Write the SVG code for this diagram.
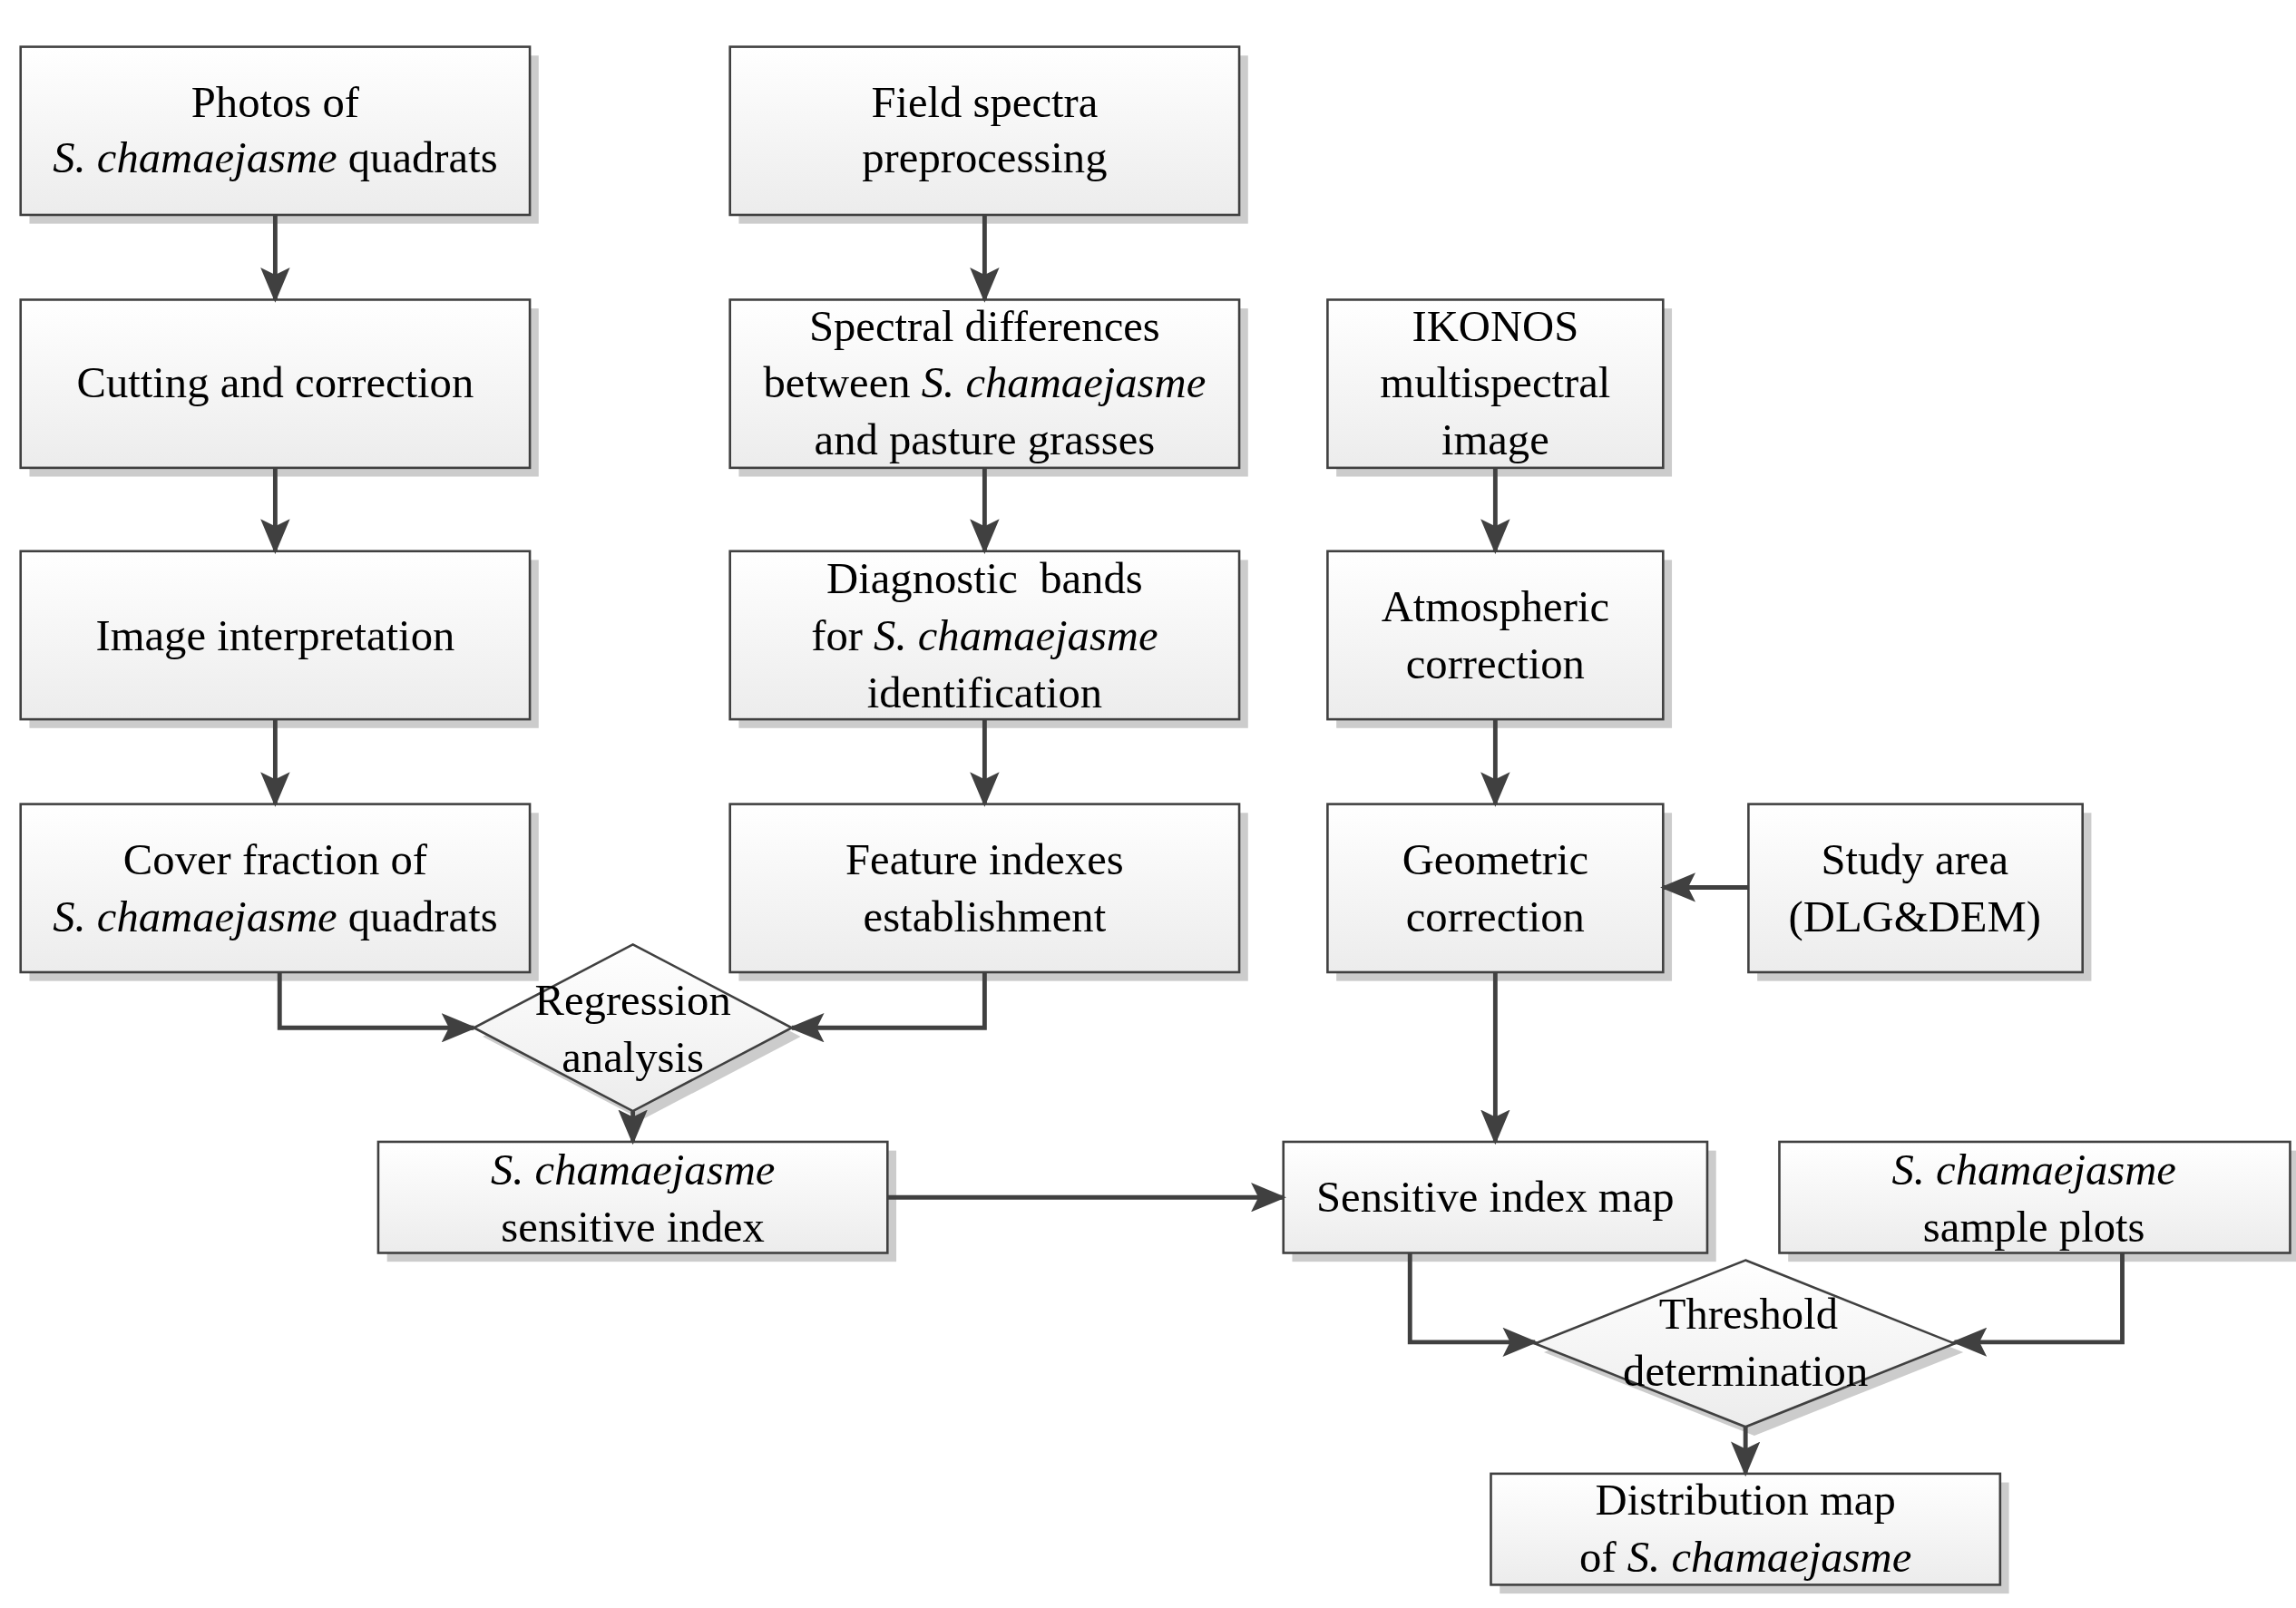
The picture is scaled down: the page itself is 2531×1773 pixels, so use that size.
<svg xmlns="http://www.w3.org/2000/svg" width="2531" height="1773" viewBox="0 0 2531 1773">
<defs>
<linearGradient id="g" x1="0" y1="0" x2="0" y2="1"><stop offset="0" stop-color="#ffffff"/><stop offset="1" stop-color="#ececec"/></linearGradient>
<marker id="a" markerUnits="userSpaceOnUse" viewBox="0 0 24 20" refX="22" refY="10" markerWidth="24" markerHeight="20" orient="auto"><path d="M0,0 L24,10 L0,20 L5,10 Z" fill="#404040"/></marker>
<style>
.b{fill:url(#g);stroke:#404040;stroke-width:1.6}
.s{fill:#cccccc}
.t{font-family:"Liberation Serif","Times New Roman",serif;font-size:30px;text-anchor:middle;fill:#000}
.c{fill:none;stroke:#404040;stroke-width:3;marker-end:url(#a)}
</style>
</defs>
<rect width="2531" height="1773" fill="#fff"/>
<g transform="scale(1.6224,1.612)">
<g id="n1"><rect class="s" x="20" y="38" width="346" height="115"/><rect class="b" x="14" y="32" width="346" height="115"/><text class="t" x="187" y="80">Photos of</text><text class="t" x="187" y="118"><tspan font-style="italic">S. chamaejasme</tspan> quadrats</text></g>
<g id="n2"><rect class="s" x="20" y="211" width="346" height="115"/><rect class="b" x="14" y="205" width="346" height="115"/><text class="t" x="187" y="272">Cutting and correction</text></g>
<g id="n3"><rect class="s" x="20" y="383" width="346" height="115"/><rect class="b" x="14" y="377" width="346" height="115"/><text class="t" x="187" y="445">Image interpretation</text></g>
<g id="n4"><rect class="s" x="20" y="556" width="346" height="115"/><rect class="b" x="14" y="550" width="346" height="115"/><text class="t" x="187" y="598">Cover fraction of</text><text class="t" x="187" y="637"><tspan font-style="italic">S. chamaejasme</tspan> quadrats</text></g>
<g id="n5"><rect class="s" x="502" y="38" width="346" height="115"/><rect class="b" x="496" y="32" width="346" height="115"/><text class="t" x="669" y="80">Field spectra</text><text class="t" x="669" y="118">preprocessing</text></g>
<g id="n6"><rect class="s" x="502" y="211" width="346" height="115"/><rect class="b" x="496" y="205" width="346" height="115"/><text class="t" x="669" y="233">Spectral differences</text><text class="t" x="669" y="272">between <tspan font-style="italic">S. chamaejasme</tspan></text><text class="t" x="669" y="311">and pasture grasses</text></g>
<g id="n7"><rect class="s" x="502" y="383" width="346" height="115"/><rect class="b" x="496" y="377" width="346" height="115"/><text class="t" x="669" y="406" xml:space="preserve">Diagnostic  bands</text><text class="t" x="669" y="445">for <tspan font-style="italic">S. chamaejasme</tspan></text><text class="t" x="669" y="484">identification</text></g>
<g id="n8"><rect class="s" x="502" y="556" width="346" height="115"/><rect class="b" x="496" y="550" width="346" height="115"/><text class="t" x="669" y="598">Feature indexes</text><text class="t" x="669" y="637">establishment</text></g>
<g id="n9"><rect class="s" x="908" y="211" width="228" height="115"/><rect class="b" x="902" y="205" width="228" height="115"/><text class="t" x="1016" y="233">IKONOS</text><text class="t" x="1016" y="272">multispectral</text><text class="t" x="1016" y="311">image</text></g>
<g id="n10"><rect class="s" x="908" y="383" width="228" height="115"/><rect class="b" x="902" y="377" width="228" height="115"/><text class="t" x="1016" y="425">Atmospheric</text><text class="t" x="1016" y="464">correction</text></g>
<g id="n11"><rect class="s" x="908" y="556" width="228" height="115"/><rect class="b" x="902" y="550" width="228" height="115"/><text class="t" x="1016" y="598">Geometric</text><text class="t" x="1016" y="637">correction</text></g>
<g id="n12"><rect class="s" x="1194" y="556" width="227" height="115"/><rect class="b" x="1188" y="550" width="227" height="115"/><text class="t" x="1301" y="598">Study area</text><text class="t" x="1301" y="637">(DLG&amp;DEM)</text></g>
<g id="n13"><path class="s" d="M436,652 L544,709 L436,766 L328,709 Z"/><path class="b" d="M430,646 L538,703 L430,760 L322,703 Z"/><text class="t" x="430" y="694">Regression</text><text class="t" x="430" y="733">analysis</text></g>
<g id="n14"><rect class="s" x="263" y="787" width="346" height="76"/><rect class="b" x="257" y="781" width="346" height="76"/><text class="t" x="430" y="810" font-style="italic">S. chamaejasme</text><text class="t" x="430" y="849">sensitive index</text></g>
<g id="n15"><rect class="s" x="878" y="787" width="288" height="76"/><rect class="b" x="872" y="781" width="288" height="76"/><text class="t" x="1016" y="829">Sensitive index map</text></g>
<g id="n16"><rect class="s" x="1215" y="787" width="347" height="76"/><rect class="b" x="1209" y="781" width="347" height="76"/><text class="t" x="1382" y="810" font-style="italic">S. chamaejasme</text><text class="t" x="1382" y="849">sample plots</text></g>
<g id="n17"><path class="s" d="M1192,868 L1334,925 L1192,982 L1049,925 Z"/><path class="b" d="M1186,862 L1328,919 L1186,976 L1043,919 Z"/><text class="t" x="1188" y="909">Threshold</text><text class="t" x="1186" y="948">determination</text></g>
<g id="n18"><rect class="s" x="1019" y="1014" width="346" height="76"/><rect class="b" x="1013" y="1008" width="346" height="76"/><text class="t" x="1186" y="1036">Distribution map</text><text class="t" x="1186" y="1075">of <tspan font-style="italic">S. chamaejasme</tspan></text></g>
<g id="connectors">
<path class="c" d="M187,147 V205"/><path class="c" d="M187,320 V377"/><path class="c" d="M187,492 V550"/>
<path class="c" d="M669,147 V205"/><path class="c" d="M669,320 V377"/><path class="c" d="M669,492 V550"/>
<path class="c" d="M1016,320 V377"/><path class="c" d="M1016,492 V550"/><path class="c" d="M1016,665 V781"/>
<path class="c" d="M1188,607 H1130"/>
<path class="c" d="M190,665 V703 H322"/>
<path class="c" d="M669,665 V703 H538"/>
<path class="c" d="M430,760 V781"/>
<path class="c" d="M603,819 H872"/>
<path class="c" d="M958,857 V918 H1043"/>
<path class="c" d="M1442,857 V918 H1328"/>
<path class="c" d="M1186,976 V1008"/>
</g>
</g>
</svg>
